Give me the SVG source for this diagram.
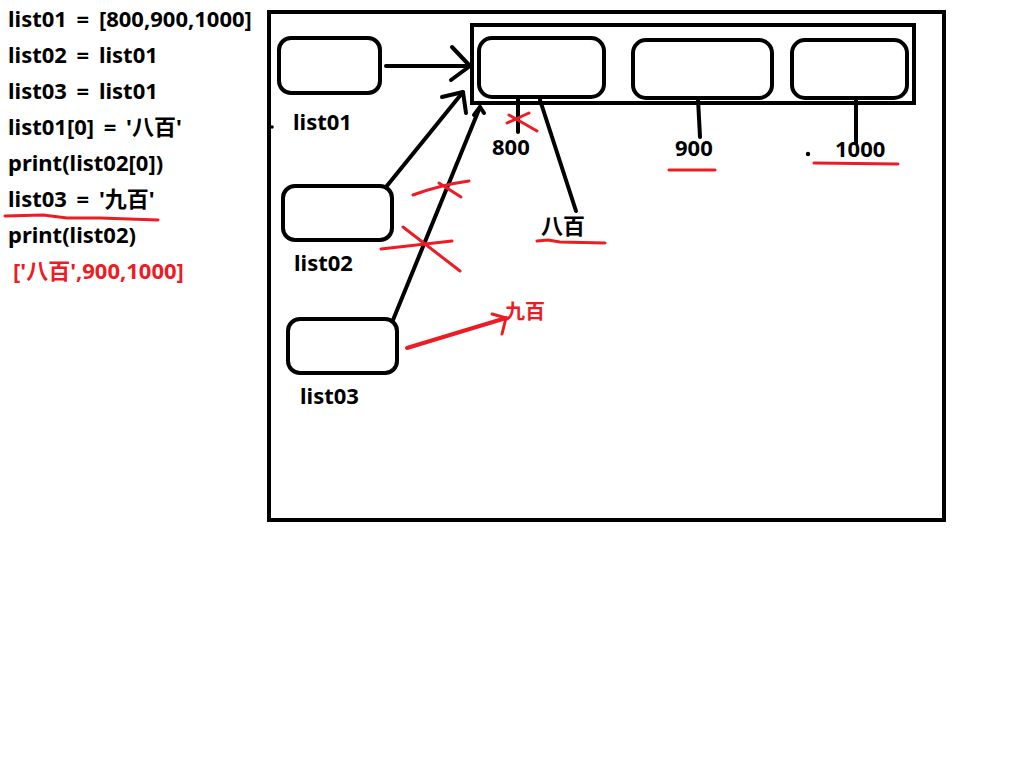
<svg xmlns="http://www.w3.org/2000/svg" width="1024" height="768" viewBox="0 0 1024 768">
<style>
.bg{fill:#ffffff}
.frame{fill:none;stroke:#000;stroke-width:4}
.box{fill:none;stroke:#000;stroke-width:4}
.ln{fill:none;stroke:#000;stroke-width:4;stroke-linecap:round;stroke-linejoin:round}
.red{fill:none;stroke:#ed1c24;stroke-width:3;stroke-linecap:round;stroke-linejoin:round}
.t{font-family:"Noto Sans","Noto Sans CJK SC",sans-serif;font-weight:bold;font-size:22px;fill:#000}
.code{font-size:22px;word-spacing:4px}
.tr{fill:#ed1c24}
</style>
<rect class="bg" x="0" y="0" width="1024" height="768"/>

<g id="code">
<text class="t code" x="8" y="27">list01 = [800,900,1000]</text>
<text class="t code" x="8" y="63">list02 = list01</text>
<text class="t code" x="8" y="99">list03 = list01</text>
<text class="t code" x="8" y="135">list01[0] = '八百'</text>
<text class="t code" x="8" y="171">print(list02[0])</text>
<text class="t code" x="8" y="207">list03 = '九百'</text>
<text class="t code" x="8" y="243">print(list02)</text>
<text class="t code tr" x="13" y="279">['八百',900,1000]</text>
<path class="red" d="M5,216 L43,215 L67,218 L100,218 L158,220"/>
</g>

<g id="memory-frame">
<rect class="frame" x="269" y="12" width="675" height="508"/>
</g>

<g id="list01">
<rect class="box" x="279" y="38" width="101" height="55" rx="12"/>
<text class="t" x="293" y="130">list01</text>
<circle cx="272" cy="127" r="1.8" fill="#000"/>
</g>

<g id="list02">
<rect class="box" x="283" y="186" width="109" height="54" rx="12"/>
<text class="t" x="294" y="271">list02</text>
</g>

<g id="list03">
<rect class="box" x="288" y="319" width="109" height="54" rx="12"/>
<text class="t" x="300" y="404">list03</text>
</g>

<g id="list-object">
<rect class="frame" x="472" y="25" width="442" height="78"/>
</g>

<g id="item0">
<rect class="box" x="479" y="38" width="125" height="59" rx="13"/>
<text class="t" x="492" y="155">800</text>
</g>

<g id="item1">
<rect class="box" x="633" y="40" width="139" height="58" rx="13"/>
<text class="t" x="675" y="156">900</text>
<path class="red" d="M669,170 L715,170"/>
</g>

<g id="item2">
<rect class="box" x="792" y="40" width="115" height="58" rx="13"/>
<text class="t" x="835" y="157">1000</text>
<circle cx="808" cy="154" r="2.2" fill="#000"/>
<path class="red" d="M814,163 L898,164"/>
</g>

<g id="value-bai">
<text class="t" x="541" y="234">八百</text>
<path class="red" d="M537,241 L548,240 L560,242 L605,243"/>
</g>

<g id="value-jiu">
<text class="t tr" x="505" y="319" style="font-size:20px">九百</text>
</g>

<g id="connectors">
<path class="ln" d="M386,66 L470,66"/>
<path class="ln" d="M452,47 L470,66 L451,80"/>
<path class="ln" d="M386,187 L463,92"/>
<path class="ln" d="M442,97 L463,92 L466,113"/>
<path class="ln" d="M393,320 L480,107"/>
<path class="ln" d="M474,115 L480,107 L484,113"/>
<path class="ln" d="M518,97 L518,132"/>
<path class="ln" d="M540,100 L576,211"/>
<path class="ln" d="M698,99 L700,137"/>
<path class="ln" d="M856,99 L856,143"/>
<path class="red" d="M507,123 L529,113"/>
<path class="red" d="M509,115 L537,131"/>
<path class="red" d="M413,195 Q440,185 469,181"/>
<path class="red" d="M439,183 L461,197"/>
<path class="red" d="M381,249 L452,241"/>
<path class="red" d="M403,227 L460,271"/>
<path class="red" d="M407,348 L506,318" style="stroke-width:4"/>
<path class="red" d="M492,314 L506,318 L502,334"/>
</g>
</svg>
